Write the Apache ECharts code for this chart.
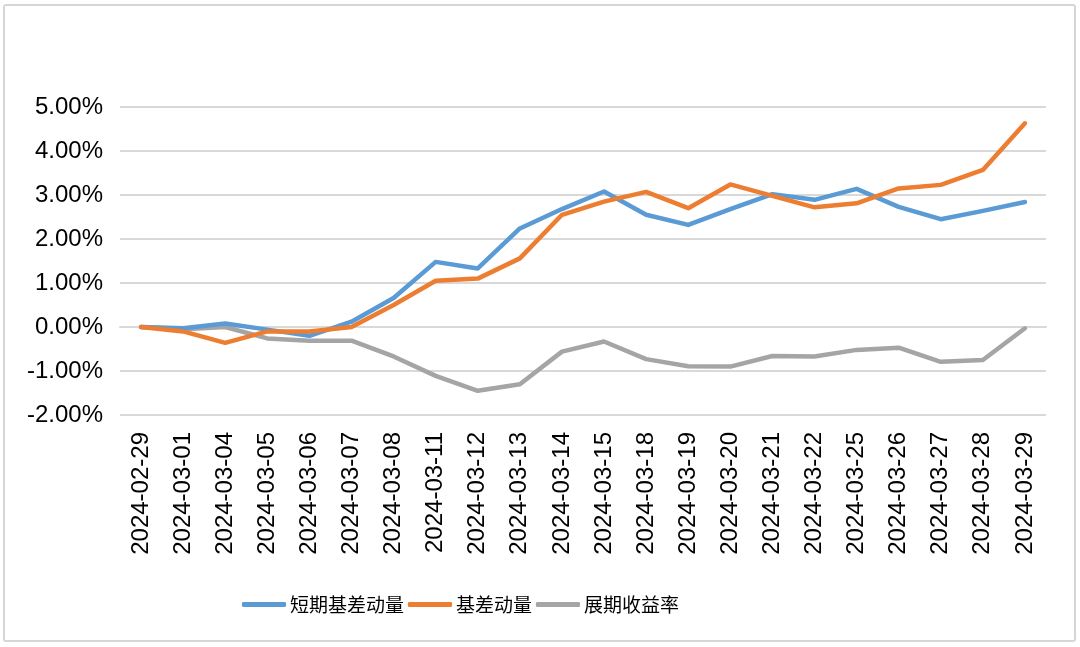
<!DOCTYPE html>
<html>
<head>
<meta charset="utf-8">
<script src="https://cdn.jsdelivr.net/npm/echarts@6/dist/echarts.min.js"></script>
<style>
html,body{margin:0;padding:0;background:#fff;}
#frame{position:absolute;left:3px;top:4px;width:1069px;height:634px;border:2px solid #d6d6d6;border-radius:3px;box-sizing:content-box;}
#chart{position:absolute;left:0;top:0;width:1080px;height:647px;}
</style>
</head>
<body>
<div id="frame"></div>
<div id="chart"></div>
<script>
const categories = ["2024-02-29","2024-03-01","2024-03-04","2024-03-05","2024-03-06","2024-03-07","2024-03-08","2024-03-11","2024-03-12","2024-03-13","2024-03-14","2024-03-15","2024-03-18","2024-03-19","2024-03-20","2024-03-21","2024-03-22","2024-03-25","2024-03-26","2024-03-27","2024-03-28","2024-03-29"];
const shortBasis = [0, -0.03, 0.08, -0.06, -0.2, 0.12, 0.66, 1.48, 1.33, 2.24, 2.68, 3.08, 2.55, 2.32, 2.68, 3.02, 2.89, 3.14, 2.73, 2.45, 2.64, 2.84];
const basis = [0, -0.1, -0.36, -0.1, -0.1, 0.0, 0.5, 1.05, 1.1, 1.56, 2.55, 2.85, 3.07, 2.7, 3.24, 2.98, 2.72, 2.81, 3.15, 3.23, 3.57, 4.63];
const rollYield = [0, -0.05, 0.0, -0.26, -0.31, -0.31, -0.67, -1.11, -1.45, -1.3, -0.56, -0.33, -0.73, -0.89, -0.9, -0.66, -0.67, -0.52, -0.47, -0.79, -0.75, -0.03];
const seriesNames = ["短期基差动量", "基差动量", "展期收益率"];
const colors = ["#5B9BD5", "#ED7D31", "#A5A5A5"];

const chart = echarts.init(document.getElementById('chart'));
const latin = "'Liberation Sans', Arial, sans-serif";
chart.setOption({
  animation: false,
  color: colors,
  grid: {left: 120, right: 34, top: 107, bottom: 232, containLabel: false},
  legend: {
    left: 237, top: 590,
    itemWidth: 44, itemHeight: 5, itemGap: 4,
    icon: 'roundRect',
    textStyle: {fontFamily: "'Noto Sans CJK SC', sans-serif", fontSize: 19, color: '#000', padding: [0,0,0,-1]},
    data: seriesNames
  },
  xAxis: {
    type: 'category',
    data: categories,
    boundaryGap: true,
    axisLine: {show: true, lineStyle: {color: '#d9d9d9', width: 2}},
    axisTick: {show: false},
    axisLabel: {rotate: 90, interval: 0, margin: 17, fontSize: 24, color: '#000', fontFamily: latin}
  },
  yAxis: {
    type: 'value',
    min: -2, max: 5, interval: 1,
    axisLine: {show: false},
    axisTick: {show: false},
    splitLine: {lineStyle: {color: '#d9d9d9', width: 2}},
    axisLabel: {margin: 17, fontSize: 24, color: '#000', fontFamily: latin, formatter: v => v.toFixed(2) + '%'}
  },
  series: [
    {name: seriesNames[0], type: 'line', data: shortBasis, symbol: 'none', lineStyle: {width: 4.5, cap: 'round', join: 'round'}, z: 3},
    {name: seriesNames[1], type: 'line', data: basis, symbol: 'none', lineStyle: {width: 4.5, cap: 'round', join: 'round'}, z: 4},
    {name: seriesNames[2], type: 'line', data: rollYield, symbol: 'none', lineStyle: {width: 4.5, cap: 'round', join: 'round'}, z: 2}
  ]
});
</script>
</body>
</html>
